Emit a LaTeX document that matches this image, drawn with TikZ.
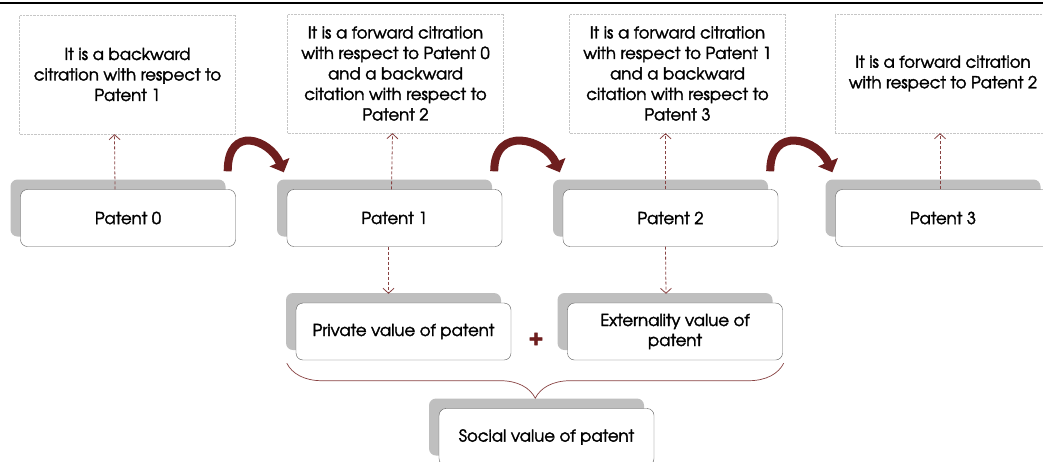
\documentclass[tikz,border=0pt]{standalone}
\usepackage{fontspec}
\setmainfont{TeX Gyre Adventor}[FakeBold=2]
\usetikzlibrary{shadows,arrows.meta,decorations.pathreplacing}
\definecolor{wine}{RGB}{110,30,30}
\definecolor{citered}{RGB}{135,65,65}
\tikzset{
	note/.style={draw=gray!45,densely dotted,minimum width=216pt,minimum height=119pt,align=center,font=\fontsize{16.5}{20.5}\selectfont},
	patent/.style={draw=black!65,rounded corners=7pt,fill=white,minimum width=215pt,minimum height=57pt,align=center,font=\fontsize{16.5}{20}\selectfont,general shadow={fill=gray!50,shadow xshift=-10pt,shadow yshift=10pt}},
	cite/.style={draw=citered,densely dashed,line width=.8pt,-{Straight Barb[length=5pt,width=11pt]}},
	hop/.style={draw=wine,line width=8pt,-{Triangle[width=21pt,length=11pt]}},
}
\begin{document}
\begin{tikzpicture}[x=1pt,y=-1pt]
	\useasboundingbox (0,0) rectangle (1043,461);
	\draw[line width=2pt] (0,3) -- (1043,3);
	% citation notes
	\node[note] (n0) at (127.5,74.5) {It is a backward\\ citration with respect to\\ Patent 1};
	\node[note] (n1) at (395.5,73.5) {It is a forward citration\\ with respect to Patent 0\\ and a backward\\ citation with respect to\\ Patent 2};
	\node[note] (n2) at (677.5,73.5) {It is a forward citration\\ with respect to Patent 1\\ and a backward\\ citation with respect to\\ Patent 3};
	\node[note] (n3) at (943,73.5) {It is a forward citration\\ with respect to Patent 2};
	% patents
	\node[patent] (p0) at (128,218) {Patent 0};
	\node[patent] (p1) at (394.5,218) {Patent 1};
	\node[patent] (p2) at (670.5,218) {Patent 2};
	\node[patent] (p3) at (943,218) {Patent 3};
	% values
	\node[patent] (prv) at (403.5,331.5) {Private value of patent};
	\node[patent] (ext) at (675,331.5) {Externality value of\\ patent};
	\node[patent] (soc) at (546.5,437) {Social value of patent};
	\node[text=wine,font=\fontsize{22}{22}\bfseries\selectfont] (plus) at (536,339) {+};
	% links
	\draw[cite] ([xshift=-13pt]p0.north) -- ([xshift=-13pt]n0.south);
	\draw[cite] ([xshift=-3pt]p1.north) -- ([xshift=-3pt]n1.south);
	\draw[cite] ([xshift=-5pt]p2.north) -- ([xshift=-12pt]n2.south);
	\draw[cite] ([xshift=-3pt]p3.north) -- ([xshift=-3pt]n3.south);
	\draw[cite] ([xshift=-6pt]p1.south) -- ([xshift=-15pt,yshift=9pt]prv.north);
	\draw[cite] ([xshift=-5pt]p2.south) -- ([xshift=-9pt,yshift=9pt]ext.north);
	\foreach \a/\b in {p0/p1,p1/p2,p2/p3}
	\draw[hop] ([shift={(-8,-18)}]\a.north east) .. controls +(0,-47) and +(-14,-33) .. ([shift={(-3,-17)}]\b.north west);
	\draw[draw=citered,line width=.7pt,decorate,decoration={brace,mirror,amplitude=35pt}] ([shift={(-9,3)}]prv.south west) -- ([shift={(1,3)}]ext.south east);
\end{tikzpicture}
\end{document}
